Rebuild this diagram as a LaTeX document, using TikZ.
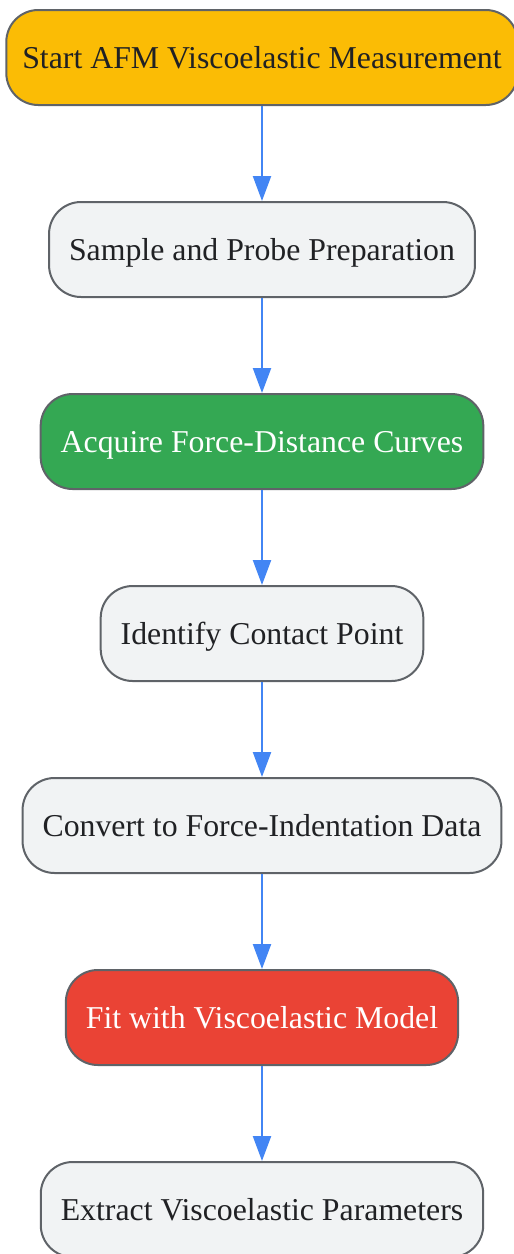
\documentclass[tikz,border=0pt]{standalone}
\usepackage{fontspec}
\setmainfont{Liberation Serif}
\usetikzlibrary{shapes,arrows,arrows.meta,positioning,calc}

\definecolor{startgold}{HTML}{FBBC05}
\definecolor{stepgreen}{HTML}{34A853}
\definecolor{stepred}{HTML}{EA4335}
\definecolor{stepgray}{HTML}{F1F3F4}
\definecolor{edgegray}{HTML}{5F6368}
\definecolor{flowblue}{HTML}{4285F4}
\definecolor{inkdark}{HTML}{202124}

\tikzset{
	stepbox/.style={draw=edgegray, line width=2pt, rounded corners=32pt, fill=stepgray,
		text=inkdark, minimum height=95pt, inner xsep=20pt, text depth=0pt,
		font=\fontsize{31.8}{38}\selectfont},
	flow/.style={draw=flowblue, line width=2.2pt, -{Triangle[length=25pt,width=18pt]}}
}

\begin{document}
\begin{tikzpicture}[x=1pt,y=1pt]
					\useasboundingbox (0,0) rectangle (514,-1254);
					
					\node[stepbox, fill=startgold, inner xsep=16pt] (start) at (262,-57.5) {Start AFM Viscoelastic Measurement};
					\node[stepbox, below=95pt of start] (prep) {Sample and Probe Preparation};
					\node[stepbox, fill=stepgreen, text=white, below=95pt of prep] (acquire) {Acquire Force-Distance Curves};
					\node[stepbox, below=95pt of acquire] (contact) {Identify Contact Point};
					\node[stepbox, below=95pt of contact] (convert) {Convert to Force-Indentation Data};
					\node[stepbox, fill=stepred, text=white, below=95pt of convert] (fit) {Fit with Viscoelastic Model};
					\node[stepbox, below=95pt of fit] (extract) {Extract Viscoelastic Parameters};
					
					% arrows
					\draw[flow] (start) -- (prep);
					\draw[flow] (prep) -- (acquire);
					\draw[flow] (acquire) -- (contact);
					\draw[flow] (contact) -- (convert);
					\draw[flow] (convert) -- (fit);
					\draw[flow] (fit) -- (extract);
				\end{tikzpicture}
\end{document}
